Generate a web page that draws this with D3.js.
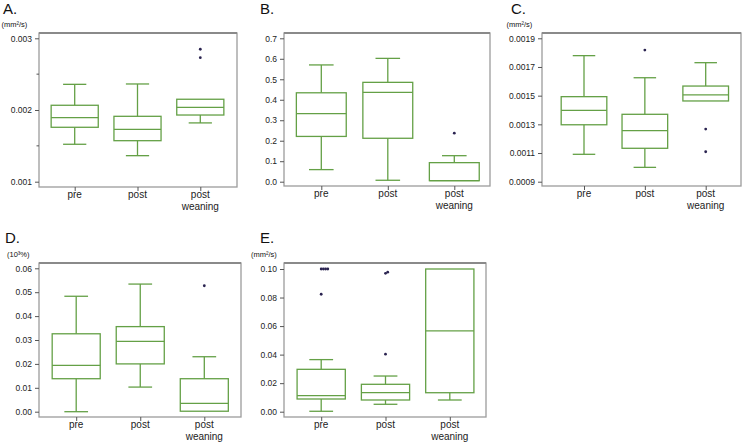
<!DOCTYPE html>
<html>
<head>
<meta charset="utf-8">
<script src="https://cdn.jsdelivr.net/npm/d3@7/dist/d3.min.js"></script>
<style>
  html, body { margin: 0; padding: 0; background: #fff; }
  svg { display: block; font-family: "Liberation Sans", Arial, sans-serif; }
</style>
</head>
<body>
<svg id="chart" width="742" height="444"></svg>
<script>
// ---------- data ----------
const categories = ["pre", "post", "post weaning"];

// box stats per category: [whisker low, Q1, median, Q3, whisker high]
const boxA = [
  [0.001522, 0.001759, 0.001895, 0.002066, 0.002358],
  [0.001363, 0.001572, 0.001730, 0.001912, 0.002363],
  [0.001820, 0.001930, 0.002038, 0.002150, 0.002150]
];
const outA = [[], [], [0.002730, 0.002847]];

const boxB = [
  [0.059, 0.221, 0.332, 0.434, 0.570],
  [0.007, 0.212, 0.436, 0.485, 0.602],
  [0.005, 0.005, 0.005, 0.093, 0.127]
];
const outB = [[], [], [0.237]];

const boxC = [
  [0.001091, 0.001297, 0.001398, 0.001493, 0.001779],
  [0.001000, 0.001133, 0.001256, 0.001370, 0.001625],
  [0.001463, 0.001463, 0.001505, 0.001567, 0.001730]
];
const outC = [[], [0.001818], [0.001109, 0.001267]];

const boxD = [
  [0.0000, 0.0138, 0.0194, 0.0326, 0.0483],
  [0.0103, 0.0200, 0.0294, 0.0356, 0.0534],
  [0.0002, 0.0002, 0.0035, 0.0138, 0.0230]
];
const outD = [[], [], [0.0527]];

const boxE = [
  [0.0003, 0.0089, 0.0112, 0.0297, 0.0365],
  [0.0052, 0.0082, 0.0133, 0.0192, 0.0250],
  [0.0082, 0.0133, 0.0566, 0.1000, 0.1000]
];
const outE = [[0.0823, 0.1, 0.1, 0.1, 0.1], [0.0403, 0.0970, 0.0978], []];

const ticksA = [0.001, 0.002, 0.003];
const tickLabelsA = ["0.001", "0.002", "0.003"];
const minorA = [0.0015, 0.0025];

const ticksB = [0, 0.1, 0.2, 0.3, 0.4, 0.5, 0.6, 0.7];
const tickLabelsB = ["0.0", "0.1", "0.2", "0.3", "0.4", "0.5", "0.6", "0.7"];

const ticksC = [0.0009, 0.0011, 0.0013, 0.0015, 0.0017, 0.0019];
const tickLabelsC = ["0.0009", "0.0011", "0.0013", "0.0015", "0.0017", "0.0019"];

const ticksD = [0, 0.01, 0.02, 0.03, 0.04, 0.05, 0.06];
const tickLabelsD = ["0.00", "0.01", "0.02", "0.03", "0.04", "0.05", "0.06"];

const ticksE = [0, 0.02, 0.04, 0.06, 0.08, 0.10];
const tickLabelsE = ["0.00", "0.02", "0.04", "0.06", "0.08", "0.10"];

// ---------- layout ----------
const panels = [
  { letter: "A.", unit: "(mm²/s)", box: boxA, out: outA, ticks: ticksA, labels: tickLabelsA, minor: minorA,
    domain: [0.001, 0.003], yr: [181.7, 38.3], fx: [39, 237], fy: [33, 187], cx: [74.7, 200.3],
    lx: 3, ly: 14, ux: 1.5, uy: 27 },
  { letter: "B.", unit: "", box: boxB, out: outB, ticks: ticksB, labels: tickLabelsB, minor: [],
    domain: [0, 0.7], yr: [181.7, 38.3], fx: [284, 490], fy: [33, 186], cx: [321.3, 454.3],
    lx: 260, ly: 14, ux: 0, uy: 0 },
  { letter: "C.", unit: "(mm²/s)", box: boxC, out: outC, ticks: ticksC, labels: tickLabelsC, minor: [],
    domain: [0.0009, 0.0019], yr: [181.7, 38.3], fx: [542, 741], fy: [33, 186], cx: [584, 705.7],
    lx: 511, ly: 14, ux: 506.5, uy: 27 },
  { letter: "D.", unit: "(10³%)", box: boxD, out: outD, ticks: ticksD, labels: tickLabelsD, minor: [],
    domain: [0, 0.06], yr: [411.7, 268.3], fx: [39, 241], fy: [263, 417], cx: [76.2, 204.3],
    lx: 5, ly: 243, ux: 7, uy: 257 },
  { letter: "E.", unit: "(mm²/s)", box: boxE, out: outE, ticks: ticksE, labels: tickLabelsE, minor: [],
    domain: [0, 0.1], yr: [411.7, 269], fx: [284, 486], fy: [263, 417], cx: [321.2, 449.8],
    lx: 260, ly: 243, ux: 251, uy: 257 }
];

const GREEN = "#64a046";
const DOT = "#2a2350";
const FRAME = "#9c9c9c";

const svg = d3.select("#chart");

panels.forEach(p => {
  const g = svg.append("g");
  const y = d3.scaleLinear().domain(p.domain).range(p.yr);
  const x = d3.scalePoint().domain(categories).range(p.cx);
  const step = x.step();
  const bw = step * 0.75;
  const cw = step * 0.37;

  // frame
  g.append("rect")
    .attr("x", p.fx[0]).attr("y", p.fy[0])
    .attr("width", p.fx[1] - p.fx[0]).attr("height", p.fy[1] - p.fy[0])
    .attr("fill", "none").attr("stroke", FRAME).attr("stroke-width", 1.3);
  g.append("line")
    .attr("x1", p.fx[0]).attr("x2", p.fx[1])
    .attr("y1", p.fy[0]).attr("y2", p.fy[0])
    .attr("stroke", "#8a8a8a").attr("stroke-width", 1.8);

  // y axis
  const yAxis = d3.axisLeft(y).tickValues(p.ticks)
    .tickFormat((d, i) => p.labels[i]).tickSize(4).tickPadding(3);
  const ya = g.append("g").attr("transform", `translate(${p.fx[0]},0)`).call(yAxis);
  ya.select(".domain").remove();
  ya.selectAll(".tick line").attr("stroke", "#555");
  ya.selectAll(".tick text").attr("fill", "#222").style("font-size", "8.5px")
    .style("font-family", "'Liberation Sans', Arial, sans-serif");
  p.minor.forEach(v => {
    g.append("line").attr("x1", p.fx[0] - 2.5).attr("x2", p.fx[0])
      .attr("y1", y(v)).attr("y2", y(v)).attr("stroke", "#555");
  });

  // x axis
  const xa = g.append("g").attr("transform", `translate(0,${p.fy[1]})`)
    .call(d3.axisBottom(x).tickSize(4).tickFormat(""));
  xa.select(".domain").remove();
  xa.selectAll(".tick line").attr("stroke", "#555");
  categories.forEach(c => {
    const words = c.split(" ");
    const t = g.append("text").attr("x", x(c)).attr("y", p.fy[1] + 11)
      .attr("text-anchor", "middle").attr("fill", "#222").style("font-size", "10px");
    words.forEach((w, i) => {
      t.append("tspan").attr("x", x(c)).attr("dy", i === 0 ? 0 : 12).text(w);
    });
  });

  // boxes
  categories.forEach((c, i) => {
    const [lo, q1, med, q3, hi] = p.box[i];
    const cx = x(c);
    const bg = g.append("g").attr("stroke", GREEN).attr("stroke-width", 1.3).attr("fill", "none");
    // whiskers
    if (hi > q3) {
      bg.append("line").attr("x1", cx).attr("x2", cx).attr("y1", y(q3)).attr("y2", y(hi));
      bg.append("line").attr("x1", cx - cw / 2).attr("x2", cx + cw / 2).attr("y1", y(hi)).attr("y2", y(hi));
    }
    if (lo < q1) {
      bg.append("line").attr("x1", cx).attr("x2", cx).attr("y1", y(q1)).attr("y2", y(lo));
      bg.append("line").attr("x1", cx - cw / 2).attr("x2", cx + cw / 2).attr("y1", y(lo)).attr("y2", y(lo));
    }
    bg.append("rect").attr("x", cx - bw / 2).attr("y", y(q3))
      .attr("width", bw).attr("height", Math.max(0.5, y(q1) - y(q3)));
    bg.append("line").attr("x1", cx - bw / 2).attr("x2", cx + bw / 2).attr("y1", y(med)).attr("y2", y(med));

    // outliers, near-ties spread to the right
    const vals = p.out[i].slice().sort((a, b) => a - b);
    let prevY = null, k = 0;
    vals.forEach(v => {
      const py = y(v);
      if (prevY !== null && Math.abs(py - prevY) < 2.5) k += 1; else k = 0;
      prevY = py;
      g.append("circle").attr("cx", cx + k * 2.2).attr("cy", py).attr("r", 1.4).attr("fill", DOT);
    });
  });

  // titles
  g.append("text").attr("x", p.lx).attr("y", p.ly).attr("fill", "#111")
    .style("font-size", "15px").text(p.letter);
  if (p.unit) {
    g.append("text").attr("x", p.ux).attr("y", p.uy).attr("fill", "#111")
      .style("font-size", "7.5px").text(p.unit);
  }
});
</script>
</body>
</html>
